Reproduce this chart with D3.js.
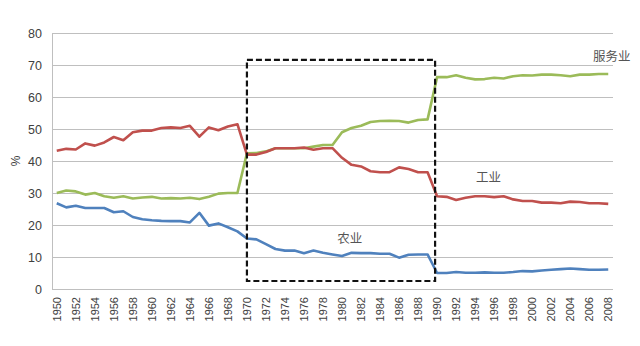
<!DOCTYPE html>
<html><head><meta charset="utf-8">
<script src="https://cdn.jsdelivr.net/npm/d3@7"></script>
<style>body{margin:0;background:#fff}svg{display:block}</style>
</head><body>
<div id="chart"></div>
<script>
const years = d3.range(1950, 2009);
const industry = [43.2,43.8,43.6,45.5,44.8,45.8,47.5,46.5,49.0,49.5,49.5,50.3,50.5,50.3,51.0,47.6,50.5,49.6,50.8,51.5,
  42.0,42.0,42.8,44.0,44.0,44.0,44.2,43.5,44.0,44.0,41.0,38.8,38.3,36.8,36.5,36.5,38.0,37.5,36.5,36.5,
  29.0,28.8,27.8,28.5,29.0,29.0,28.7,29.0,28.0,27.5,27.5,27.0,27.0,26.8,27.3,27.2,26.8,26.8,26.6];
const services = [30.0,30.8,30.5,29.5,30.0,29.0,28.5,29.0,28.3,28.6,28.8,28.3,28.4,28.3,28.5,28.1,28.8,29.8,30.0,30.0,
  42.4,42.5,43.0,44.0,44.0,44.0,44.0,44.5,45.0,45.0,49.0,50.3,51.0,52.2,52.5,52.6,52.5,52.0,52.8,53.0,
  66.2,66.2,66.8,66.0,65.5,65.6,66.0,65.8,66.5,66.8,66.7,67.0,67.0,66.8,66.5,67.0,67.0,67.2,67.2];
const agriculture = [26.8,25.5,26.0,25.3,25.3,25.3,24.0,24.3,22.5,21.8,21.5,21.3,21.2,21.2,20.8,23.8,19.8,20.5,19.3,18.0,
  15.8,15.5,14.0,12.5,12.0,12.0,11.2,12.0,11.3,10.8,10.3,11.3,11.2,11.2,11.0,11.0,9.8,10.7,10.8,10.8,
  5.0,5.0,5.3,5.1,5.1,5.2,5.1,5.1,5.3,5.6,5.5,5.8,6.0,6.2,6.4,6.2,6.0,6.0,6.1];
const seriesNames = ["服务业","工业","农业"];
const seriesColors = ["#9BBB59","#C0504D","#4F81BD"];
const yTicks = [0,10,20,30,40,50,60,70,80];
const xTickYears = years.filter(y => y % 2 === 0);
const boxYears = [1970, 1990];
const boxValues = [2.5, 71.6];
const labelYears = [2006.4, 1994.1, 1979.5];
const labelValues = [72.5, 34.7, 15.6];

const W = 640, H = 346;
const m = {left:52, right:27, top:33, bottom:57};
const svg = d3.select("#chart").append("svg").attr("width", W).attr("height", H);

const x = d3.scaleBand().domain(years).range([m.left, W - m.right]);
const xc = yr => x(yr) + x.bandwidth()/2;
// continuous position for annotations placed between categories
const xl = yr => xc(years[0]) + (yr - years[0]) * x.step();
const y = d3.scaleLinear().domain([0,80]).range([H - m.bottom, m.top]);

const font = "'Liberation Sans', Arial, sans-serif";

svg.append("g").selectAll("line").data(yTicks).join("line")
  .attr("x1", m.left).attr("x2", W - m.right)
  .attr("y1", d => y(d)).attr("y2", d => y(d))
  .attr("stroke", "#bfbfbf").attr("stroke-width", 1).attr("shape-rendering","crispEdges");
svg.append("line").attr("x1", m.left).attr("x2", m.left).attr("y1", y(80)).attr("y2", y(0))
  .attr("stroke", "#bfbfbf").attr("shape-rendering","crispEdges");

const yAxis = svg.append("g").attr("transform", `translate(${m.left},0)`)
  .call(d3.axisLeft(y).tickValues(yTicks).tickSize(0).tickPadding(10));
yAxis.select(".domain").remove();
yAxis.selectAll("text").attr("font-family", font).attr("font-size", 12.5).attr("fill", "#404040");

const xAxis = svg.append("g").attr("transform", `translate(0,${y(0)})`)
  .call(d3.axisBottom(x).tickValues(xTickYears).tickSize(0));
xAxis.select(".domain").remove();
xAxis.selectAll("text")
  .attr("font-family", font).attr("font-size", 11).attr("fill", "#404040")
  .attr("transform", "rotate(-90)")
  .attr("text-anchor", "end").attr("dy", "0.35em").attr("x", -8).attr("y", 0);

svg.append("text").attr("transform", `translate(16,${y(40)}) rotate(-90)`)
  .attr("text-anchor","middle").attr("dy","0.35em")
  .attr("font-family", font).attr("font-size", 12).attr("fill","#404040").text("%");

const line = d3.line().x((d,i) => xc(years[i])).y(d => y(d));
[services, industry, agriculture].forEach((s, i) => {
  svg.append("path").datum(s).attr("d", line)
    .attr("fill","none").attr("stroke", seriesColors[i]).attr("stroke-width", 2.6)
    .attr("stroke-linejoin","round");
});

svg.append("rect")
  .attr("x", xl(boxYears[0])).attr("y", y(boxValues[1]))
  .attr("width", xl(boxYears[1]) - xl(boxYears[0]) - 2)
  .attr("height", y(boxValues[0]) - y(boxValues[1]))
  .attr("fill","none").attr("stroke","#111").attr("stroke-width", 2.2)
  .attr("stroke-dasharray","6,3");

seriesNames.forEach((n, i) => {
  svg.append("text").attr("x", xl(labelYears[i])).attr("y", y(labelValues[i]))
    .attr("dy","0.35em").attr("font-family","'Noto Sans CJK SC', sans-serif")
    .attr("font-size", 12.5).attr("fill", "#555").text(n);
});
</script>
</body></html>
